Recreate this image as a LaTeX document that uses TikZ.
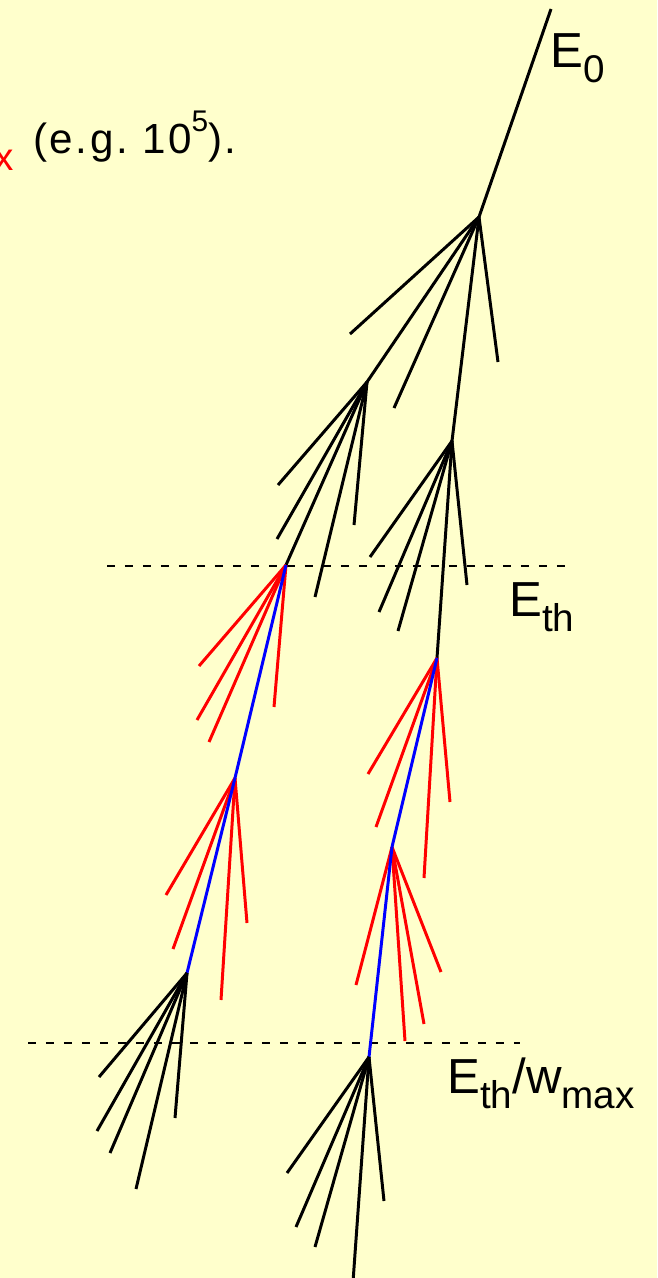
\documentclass[tikz,border=0pt]{standalone}
\usepackage{fontspec}
\setmainfont{Liberation Sans}
\usepackage{xcolor}
\usetikzlibrary{positioning}
\definecolor{paper}{RGB}{255,255,204}
\tikzset{
  prim/.style={line width=1.7pt, black},
  hot/.style={line width=1.7pt, red},
  lead/.style={line width=1.7pt, blue},
  cutline/.style={line width=1.3pt, dash pattern=on 0.17cm off 0.19cm},
  elabel/.style={anchor=base west, inner sep=0pt, font=\fontsize{28}{32}\selectfont},
  note/.style={anchor=base west, inner sep=0pt,
               font=\fontsize{24}{28}\selectfont\addfontfeature{LetterSpace=6}}
}
\newcommand{\lowsub}[1]{\raisebox{-0.32em}{\fontsize{22}{22}\selectfont #1}}

\begin{document}
\begin{tikzpicture}[x=0.02cm, y=-0.02cm]
  \useasboundingbox (0,0) rectangle (657,1278);
  \fill[paper] (0,0) rectangle (657,1278);
  \begin{scope}
  \clip (0,0) rectangle (657,1278);

  % vertices
  \coordinate (top) at (551,9);
  \coordinate (v1) at (479,217);
  \coordinate (v2) at (367,382);
  \coordinate (v3) at (452,441);
  \coordinate (v4) at (286,565);
  \coordinate (v5) at (437,658);
  \coordinate (v6) at (235,778);
  \coordinate (v7) at (392,847);
  \coordinate (v8) at (187,973);
  \coordinate (v9) at (369,1057);

  % thresholds
  \coordinate (th1a) at (107,566);
  \coordinate (th1b) at (565,566);
  \coordinate (th2a) at (28,1043);
  \coordinate (th2b) at (520,1043);
  \draw[cutline] (th1a) -- (th1b);
  \draw[cutline] (th2a) -- (th2b);

  % trunk
  \draw[prim] (top) -- (v1);
  \draw[prim] (v1) -- (v2);
  \draw[prim] (v1) -- (v3);
  \draw[prim] (v2) -- (v4);
  \draw[prim] (v3) -- (v5);

  % black fans
  \foreach \x/\y [count=\i] in {350/334, 394/408, 498/362}
    {\coordinate (a\i) at (\x,\y); \draw[prim] (v1) -- (a\i);}
  \foreach \x/\y [count=\i] in {278/485, 277/539, 315/597, 354/525}
    {\coordinate (b\i) at (\x,\y); \draw[prim] (v2) -- (b\i);}
  \foreach \x/\y [count=\i] in {370/557, 379/612, 398/631, 467/585}
    {\coordinate (c\i) at (\x,\y); \draw[prim] (v3) -- (c\i);}

  % red fans
  \foreach \x/\y [count=\i] in {199/666, 197/720, 209/742, 274/707}
    {\coordinate (d\i) at (\x,\y); \draw[hot] (v4) -- (d\i);}
  \foreach \x/\y [count=\i] in {166/895, 173/949, 221/1000, 247/923}
    {\coordinate (e\i) at (\x,\y); \draw[hot] (v6) -- (e\i);}
  \foreach \x/\y [count=\i] in {368/774, 376/827, 424/878, 450/802}
    {\coordinate (f\i) at (\x,\y); \draw[hot] (v5) -- (f\i);}
  \foreach \x/\y [count=\i] in {356/985, 405/1041, 424/1024, 441/972}
    {\coordinate (g\i) at (\x,\y); \draw[hot] (v7) -- (g\i);}

  % leading particles
  \draw[lead] (v4) -- (v6);
  \draw[lead] (v6) -- (v8);
  \draw[lead] (v5) -- (v7);
  \draw[lead] (v7) -- (v9);

  % black fans below
  \foreach \x/\y [count=\i] in {99/1077, 97/1131, 110/1153, 136/1189, 175/1118}
    {\coordinate (h\i) at (\x,\y); \draw[prim] (v8) -- (h\i);}
  \foreach \x/\y [count=\i] in {287/1173, 296/1227, 315/1247, 353/1282, 384/1201}
    {\coordinate (k\i) at (\x,\y); \draw[prim] (v9) -- (k\i);}

  % labels
  \node[elabel] (e0) at (550,67) {E\lowsub{0}};
  \node[elabel] (eth) at (509,616) {E\lowsub{th}};
  \node[elabel] (ethw) at (447,1093) {E\lowsub{th}/w\lowsub{max}};
  \node[note] (eg) at (33,153) {(e.g.\ 10\raisebox{0.5em}{\fontsize{17}{17}\selectfont 5}).};
  \node[anchor=base east, inner sep=0pt, text=red, font=\fontsize{22}{26}\selectfont] (wx) at (14,170) {x};
  \end{scope}
\end{tikzpicture}
\end{document}
